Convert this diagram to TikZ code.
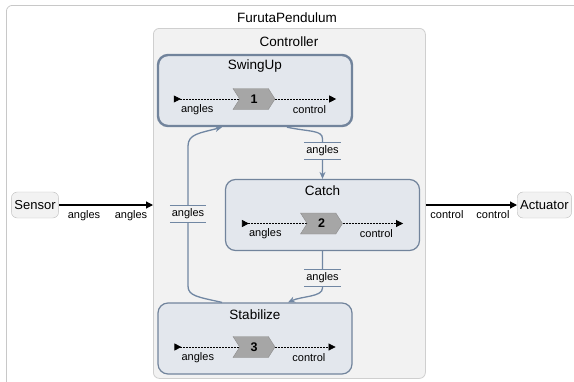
\documentclass[tikz,border=0pt]{standalone}
\usepackage{fontspec}
\setmainfont{Liberation Sans}
\usetikzlibrary{shapes.symbols,arrows.meta}
\definecolor{outerline}{HTML}{C8C8C8}
\definecolor{ctrlfill}{HTML}{F2F2F2}
\definecolor{ctrlline}{HTML}{CFCFCF}
\definecolor{stfill}{HTML}{E3E7ED}
\definecolor{stline}{HTML}{72849C}
\definecolor{trcol}{HTML}{7187A3}
\definecolor{chevfill}{HTML}{A6A6A6}
\definecolor{chevline}{HTML}{8C8C8C}
\definecolor{extfill}{HTML}{F2F2F2}
\definecolor{extline}{HTML}{BEBEBE}
\tikzset{
  titletxt/.style={font=\fontsize{13.5}{15}\selectfont, inner sep=0pt},
  lbl/.style={font=\fontsize{11}{12}\selectfont, inner sep=0pt},
  statebox/.style={draw=stline, fill=stfill, line width=1.2pt, rounded corners=10pt,
    minimum width=194pt, minimum height=71pt, inner sep=0pt},
  chev/.style={shape=signal, signal to=east, signal from=west, signal pointer angle=115,
    draw=chevline, fill=chevfill, minimum width=42pt, minimum height=21pt, inner sep=0pt,
    font=\bfseries\fontsize{12.5}{14}\selectfont},
  inline/.style={draw=black, line width=0.7pt, dash pattern=on 2pt off 1pt},
  tipin/.style={{Triangle[reversed,length=7pt,width=7pt]}-},
  tipout/.style={-{Triangle[length=7pt,width=7pt]}},
  trans/.style={draw=trcol, line width=1.3pt},
  trarrow/.style={-{Stealth[length=7pt,width=6pt]}},
  tlabel/.style={fill=ctrlfill, font=\fontsize{11}{12}\selectfont, inner sep=0pt,
    minimum width=36pt, minimum height=16pt,
    append after command={(\tikzlastnode.north west) edge[draw=trcol, line width=1pt] (\tikzlastnode.north east)
      (\tikzlastnode.south west) edge[draw=trcol, line width=1pt] (\tikzlastnode.south east)}},
  ext/.style={draw=extline, fill=extfill, rounded corners=6pt, minimum height=26pt,
    inner sep=3pt, font=\fontsize{13}{15}\selectfont},
  ioline/.style={draw=black, line width=1.2pt},
}
\newcommand\stateinner[2]{%
  \coordinate (#1-in) at ([xshift=17pt,yshift=-8.5pt]#1.west);
  \coordinate (#1-out) at ([xshift=-17pt,yshift=-8.5pt]#1.east);
  \draw[inline, tipin] (#1-in) -- ([xshift=-1pt,yshift=-8.5pt]#1.center);
  \draw[inline, tipout] ([xshift=-1pt,yshift=-8.5pt]#1.center) -- (#1-out);
  \node[chev] (#1-chev) at ([xshift=-1pt,yshift=-8.5pt]#1.center) {#2};
  \node[lbl, anchor=west] (#1-lin) at ([xshift=7pt,yshift=-10.5pt]#1-in) {angles};
  \node[lbl, anchor=east] (#1-lout) at ([xshift=-10pt,yshift=-10.5pt]#1-out) {control};
}
\begin{document}
\begin{tikzpicture}[x=1pt,y=-1pt]
\useasboundingbox (0,0) rectangle (574,381);
\clip (0,0) rectangle (574,381);
\fill[white] (0,0) rectangle (574,381);
% outer component
\node[draw=outerline, fill=white, rounded corners=6pt, line width=0.8pt, anchor=north west,
  minimum width=600pt, minimum height=420pt, inner sep=0pt] (furuta) at (6,5) {};
\node[titletxt] (furutatitle) at (287,18) {FurutaPendulum};
% controller
\node[draw=ctrlline, fill=ctrlfill, rounded corners=6pt, line width=0.8pt, anchor=north west,
  minimum width=272pt, minimum height=350pt, inner sep=0pt] (ctrl) at (153,28) {};
\node[titletxt] (ctrltitle) at (289,42) {Controller};
% states
\node[statebox, line width=2.4pt] (swingup) at (255,90.5) {};
\node[titletxt] (swinguptitle) at ([yshift=-12pt]swingup.north) {SwingUp};
\stateinner{swingup}{1}
\node[statebox] (catch) at (322.5,215) {};
\node[titletxt] (catchtitle) at ([yshift=-12pt]catch.north) {Catch};
\stateinner{catch}{2}
\node[statebox] (stabilize) at (255,338.5) {};
\node[titletxt] (stabilizetitle) at ([yshift=-12pt]stabilize.north) {Stabilize};
\stateinner{stabilize}{3}
% transitions
\coordinate (t1a) at ([yshift=40pt]catch.north);
\draw[trans, trarrow] ([xshift=32pt]swingup.south) .. controls (310,132) and (322.5,130) .. (t1a) -- (catch.north);
\node[tlabel] (l1) at ([yshift=28pt]catch.north) {angles};
\coordinate (t2a) at ([yshift=-37pt]catch.south);
\draw[trans, trarrow] (catch.south) -- (t2a) .. controls (322.5,297) and (302,296) .. ([xshift=33pt]stabilize.north);
\node[tlabel] (l2) at ([yshift=-27pt]catch.south) {angles};
\coordinate (t3a) at (188,286);
\coordinate (t3b) at (188,146);
\draw[trans, trarrow] ([xshift=-33pt]stabilize.north) .. controls (198,297) and (188,296) .. (t3a) -- (t3b)
  .. controls (188,134) and (200,133) .. ([xshift=-33pt]swingup.south);
\node[tlabel] (l3) at (188,214) {angles};
% external
\node[ext] (sensor) at (35,205) {Sensor};
\node[ext, anchor=west] (actuator) at (517,205) {Actuator};
\draw[ioline, tipin, tipout] (sensor.east) -- (sensor.east -| ctrl.west);
\node[lbl] (sl1) at (84,216) {angles};
\node[lbl] (sl2) at (131,216) {angles};
\draw[ioline, tipin, tipout] (actuator.west -| ctrl.east) -- (actuator.west);
\node[lbl] (al1) at (447,215) {control};
\node[lbl] (al2) at (493,215) {control};
\end{tikzpicture}
\end{document}
